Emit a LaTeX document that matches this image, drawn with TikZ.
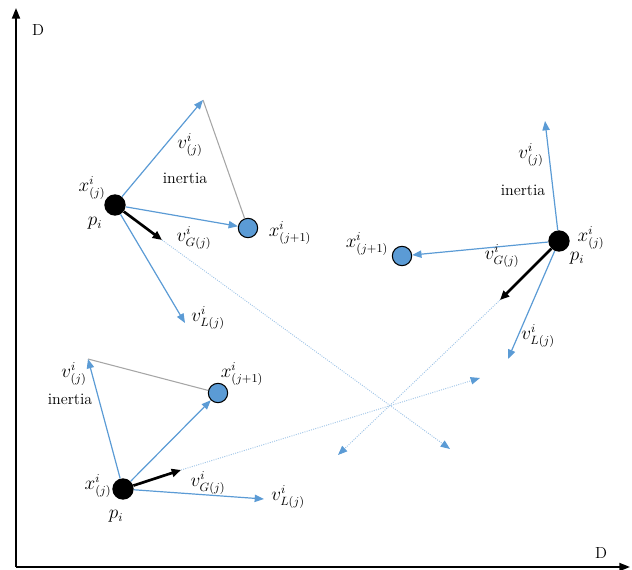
\documentclass[tikz,border=0pt]{standalone}
\usepackage{tikz}
\usetikzlibrary{arrows.meta,positioning,calc}
\definecolor{velblue}{HTML}{5B9BD5}
\definecolor{trailblue}{HTML}{9DC3E6}
\definecolor{linegray}{HTML}{A6A6A6}

\tikzset{
    particle/.style={circle, fill=black, inner sep=0pt, minimum size=16pt},
    target/.style={circle, draw=black, fill=velblue, line width=0.8pt, inner sep=0pt, minimum size=14.5pt},
    vel/.style={velblue, line width=0.9pt, -{Triangle[length=7pt,width=5.5pt]}},
    gbest/.style={black, line width=2pt, -{Triangle[length=7pt,width=6pt]}},
    trail/.style={trailblue, line width=0.7pt, densely dotted, -{Triangle[length=7pt,width=5.5pt,color=velblue,fill=velblue]}},
    lbl/.style={font=\fontsize{12}{14}\selectfont, inner sep=0pt},
    mlbl/.style={font=\fontsize{13.5}{15}\selectfont, inner sep=0pt},
}

\begin{document}
\begin{tikzpicture}[x=0.75pt, y=-0.75pt]
    \useasboundingbox (0,0) rectangle (632,570);

    % Axes
    \coordinate (origin) at (16,567);
    \coordinate (ytop) at (16,8);
    \coordinate (xend) at (630,567);
    \draw[line width=1.4pt, -{Triangle[length=8pt,width=6pt]}] (origin) -- (ytop);
    \draw[line width=1.4pt, -{Triangle[length=8pt,width=6pt]}] (origin) -- (xend);
    \node[lbl] (dy) at (38,30) {D};
    \node[lbl] (dx) at (601,553) {D};

    % Particle top left
    \node[particle] (p1) at (115,205) {};
    \node[target] (n1) at (248,228) {};
    \coordinate (in1) at (203,100);
    \coordinate (g1) at (162,240);
    \coordinate (l1) at (185,323);
    \coordinate (t1) at (450,449);
    \draw[linegray, line width=0.8pt] (in1) -- (n1);
    \draw[vel] (p1) -- (in1);
    \draw[vel] (p1) -- (n1);
    \draw[vel] (p1) -- (l1);
    \draw[trail] (g1) -- (t1);
    \draw[gbest] (p1) -- (g1);
    \node[mlbl] at (92,188) {$x^i_{(j)}$};
    \node[mlbl] at (95,223) {$p_i$};
    \node[mlbl] at (190,145) {$v^i_{(j)}$};
    \node[lbl] at (185,178) {inertia};
    \node[mlbl] at (194,238) {$v^i_{G(j)}$};
    \node[mlbl] at (290,233) {$x^i_{(j+1)}$};
    \node[mlbl] at (208,318) {$v^i_{L(j)}$};

    % Particle right
    \node[particle] (p2) at (559,241) {};
    \node[target] (n2) at (402,256) {};
    \coordinate (in2) at (545,121);
    \coordinate (g2) at (500,300);
    \coordinate (l2) at (508,359);
    \coordinate (t2) at (338,455);
    \draw[vel] (p2) -- (in2);
    \draw[vel] (p2) -- (n2);
    \draw[vel] (p2) -- (l2);
    \draw[trail] (g2) -- (t2);
    \draw[gbest] (p2) -- (g2);
    \node[mlbl] at (591,238) {$x^i_{(j)}$};
    \node[mlbl] at (577,258) {$p_i$};
    \node[mlbl] at (531,155) {$v^i_{(j)}$};
    \node[lbl] at (523,190) {inertia};
    \node[mlbl] at (502,256) {$v^i_{G(j)}$};
    \node[mlbl] at (367,244) {$x^i_{(j+1)}$};
    \node[mlbl] at (538,336) {$v^i_{L(j)}$};

    % Particle bottom left
    \node[particle] (p3) at (123,489) {};
    \node[target] (n3) at (218,393) {};
    \coordinate (in3) at (88,359);
    \coordinate (g3) at (181,470);
    \coordinate (l3) at (264,499);
    \coordinate (t3) at (480,378);
    \draw[linegray, line width=0.8pt] (in3) -- (n3);
    \draw[vel] (p3) -- (in3);
    \draw[vel] (p3) -- (n3);
    \draw[vel] (p3) -- (l3);
    \draw[trail] (g3) -- (t3);
    \draw[gbest] (p3) -- (g3);
    \node[mlbl] at (98,486) {$x^i_{(j)}$};
    \node[mlbl] at (116,516) {$p_i$};
    \node[mlbl] at (74,374) {$v^i_{(j)}$};
    \node[lbl] at (70,399) {inertia};
    \node[mlbl] at (242,374) {$x^i_{(j+1)}$};
    \node[mlbl] at (208,483) {$v^i_{G(j)}$};
    \node[mlbl] at (288,497) {$v^i_{L(j)}$};
\end{tikzpicture}
\end{document}
